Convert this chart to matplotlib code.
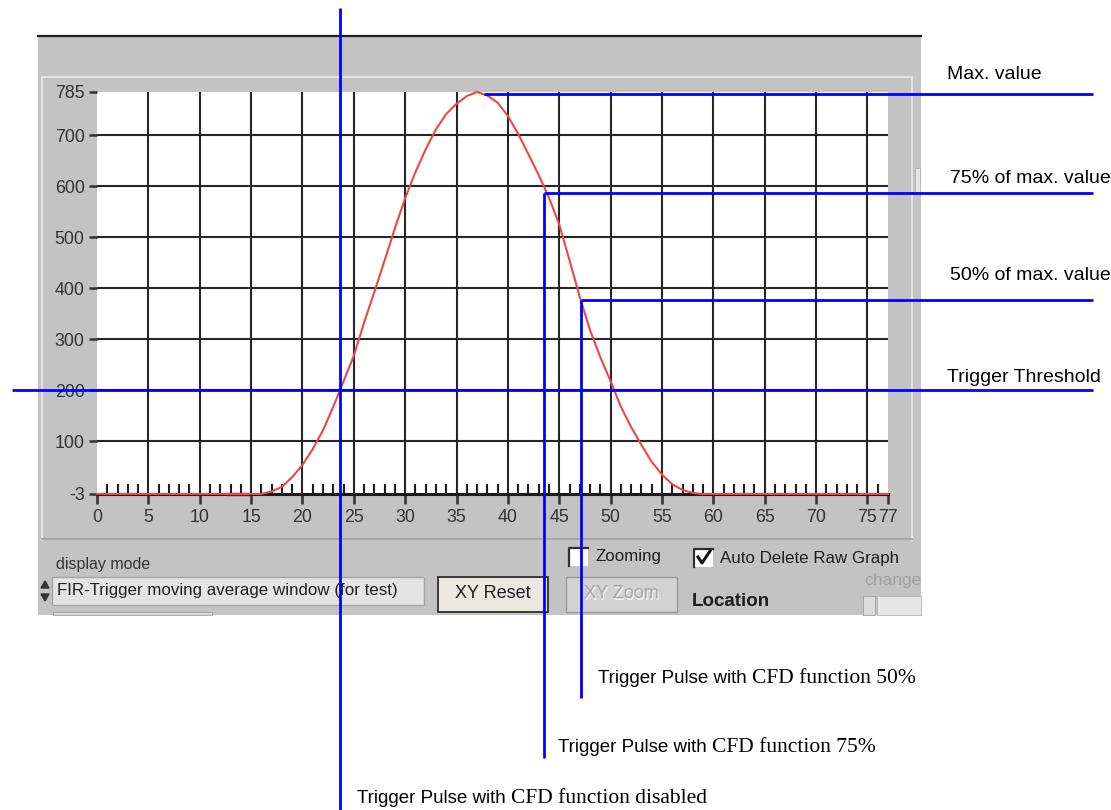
import matplotlib
matplotlib.use("Agg")
import matplotlib.pyplot as plt
from matplotlib.patches import Rectangle, Polygon
from matplotlib.lines import Line2D
from matplotlib.ticker import FixedLocator, MultipleLocator
from matplotlib.transforms import Bbox, TransformedBbox

plt.rcParams["axes.unicode_minus"] = False

# FIR trigger pulse (moving average window)
sample_x = [0, 1, 2, 3, 4, 5, 6, 7, 8, 9, 10, 11, 12, 13, 14, 15, 16, 17, 18, 19,
            20, 21, 22, 23, 24, 25, 26, 27, 28, 29, 30, 31, 32, 33, 34, 35, 36, 37, 38, 39,
            40, 41, 42, 43, 44, 45, 46, 47, 48, 49, 50, 51, 52, 53, 54, 55, 56, 57, 58, 59,
            60, 61, 62, 63, 64, 65, 66, 67, 68, 69, 70, 71, 72, 73, 74, 75, 76, 77]
pulse_y = [-3, -3, -3, -3, -3, -3, -3, -3, -3, -3, -3, -3, -3, -3, -3, -3, -3, 2, 11, 30,
           54, 85, 122, 168, 218, 268, 333, 393, 455, 518, 577, 628, 673, 712, 742, 762, 777, 785, 778, 764,
           738, 703, 663, 622, 578, 525, 455, 383, 318, 265, 218, 168, 128, 93, 60, 35, 16, 5, -1, -3,
           -3, -3, -3, -3, -3, -3, -3, -3, -3, -3, -3, -3, -3, -3, -3, -3, -3, -3]
raw_x = [12.8, 14.6]
raw_y = [-3, -3]

xticks = [0, 5, 10, 15, 20, 25, 30, 35, 40, 45, 50, 55, 60, 65, 70, 75, 77]
yticks = [-3, 100, 200, 300, 400, 500, 600, 700, 785]
grid_x = [5, 10, 15, 20, 25, 30, 35, 40, 45, 50, 55, 60, 65, 70, 75]
grid_y = [100, 200, 300, 400, 500, 600, 700]

# annotation levels / trigger positions
max_x, max_level = 37.7, 782
threshold = 200
cfd_x = [23.65, 43.5, 47.1]        # disabled, 75 %, 50 %
cfd_level = [threshold, 587, 377]
level_names = ["Max. value", "75% of max. value", "50% of max. value", "Trigger Threshold"]
pulse_names = ["disabled", "75%", "50%"]

W, H = 1111, 810
fig = plt.figure(figsize=(W / 100, H / 100), dpi=100)
fig.patch.set_facecolor("white")
gui_font = "Liberation Sans"


def fbox(x0, y0, x1, y1):
    return (x0 / W, 1 - y1 / H), (x1 - x0) / W, (y1 - y0) / H


def frect(x0, y0, x1, y1, **kw):
    xy, w, h = fbox(x0, y0, x1, y1)
    kw.setdefault("zorder", -1)
    fig.add_artist(Rectangle(xy, w, h, transform=fig.transFigure, **kw))


def fline(xs, ys, **kw):
    kw.setdefault("zorder", -0.8)
    fig.add_artist(Line2D([x / W for x in xs], [1 - y / H for y in ys],
                          transform=fig.transFigure, **kw))


def ftext(x, y, s, **kw):
    kw.setdefault("zorder", -0.5)
    kw.setdefault("va", "center")
    return fig.text(x / W, 1 - y / H, s, **kw)


# LabVIEW style panel
frect(38, 36, 921, 615, facecolor="#c3c3c3", edgecolor="none", zorder=-2)
fline([38, 921], [36, 36], color="#1e1e1e", lw=1.6)
fline([42, 912, 912], [77, 77, 540], color="#e4e4e4", lw=1.4)
fline([42, 42], [77, 540], color="#e4e4e4", lw=1.4)
fline([42, 912], [539, 539], color="#a8a8a8", lw=1.4)
frect(915, 168, 920, 192, facecolor="#e6e6e6", edgecolor="#b0b0b0", lw=0.6)

# controls below the graph
ftext(56, 565, "display mode", fontsize=11.5, color="#333333", family=gui_font)
frect(52, 577, 424, 605, facecolor="#e4e4e4", edgecolor="#a4a4a4", lw=1.0)
ftext(57, 591, "FIR-Trigger moving average window (for test)", fontsize=12.2,
      color="#202020", family=gui_font)
fig.add_artist(Polygon([(41 / W, 1 - 588 / H), (49 / W, 1 - 588 / H), (45 / W, 1 - 581 / H)],
                       transform=fig.transFigure, color="#333333", zorder=-0.8))
fig.add_artist(Polygon([(41 / W, 1 - 594 / H), (49 / W, 1 - 594 / H), (45 / W, 1 - 601 / H)],
                       transform=fig.transFigure, color="#333333", zorder=-0.8))
frect(53, 612, 212, 615, facecolor="#d8d8d8", edgecolor="#a0a0a0", lw=0.6)

frect(438, 577, 548, 612, facecolor="#ebe8e2", edgecolor="#3a3a3a", lw=1.4)
ftext(493, 594, "XY Reset", fontsize=13, color="#1e1e1e", ha="center", family=gui_font)
frect(566, 577, 677, 612, facecolor="#d2d2d2", edgecolor="#9a9a9a", lw=1.0)
ftext(622, 595, "XY Zoom", fontsize=13, color="#f4f4f4", ha="center", family=gui_font)
ftext(621, 594, "XY Zoom", fontsize=13, color="#a6a6a6", ha="center", family=gui_font)
ftext(692, 602, "Location", fontsize=13.5, color="#1e1e1e", weight="bold", family=gui_font)

frect(569, 548, 588, 566, facecolor="white", edgecolor="none")
fline([569, 569, 588], [566, 548, 548], color="#303030", lw=1.6)
ftext(595, 557, "Zooming", fontsize=12.2, color="#1e1e1e", family=gui_font)
frect(694, 549, 713, 567, facecolor="white", edgecolor="none")
fline([694, 694, 713], [567, 549, 549], color="#303030", lw=1.6)
fline([698, 702, 710], [557, 563, 551], color="#111111", lw=2.2)
ftext(720, 558, "Auto Delete Raw Graph", fontsize=12.2, color="#1e1e1e", family=gui_font)
t = ftext(864, 581, "change", fontsize=12.5, color="#a2a2a2", family=gui_font)
t.set_clip_box(TransformedBbox(Bbox([[0, 0], [921 / W, 1]]), fig.transFigure))
t.set_clip_on(True)
frect(863, 596, 875, 615, facecolor="#dcdcdc", edgecolor="#a0a0a0", lw=0.6)
frect(877, 596, 921, 615, facecolor="#e6e6e6", edgecolor="#b4b4b4", lw=0.6)

# graph
xy, w, h = fbox(97, 92, 888, 494)
ax = fig.add_axes([xy[0], xy[1], w, h])
ax.set_facecolor("white")
ax.set_xlim(0, 77)
ax.set_ylim(-3, 785)
for gx in grid_x:
    ax.axvline(gx, color="#262626", lw=1.5, zorder=1)
for gy in grid_y:
    ax.axhline(gy, color="#262626", lw=1.5, zorder=1)
for s in ["top", "left", "right"]:
    ax.spines[s].set_visible(False)
ax.spines["bottom"].set_color("#1a1a1a")
ax.spines["bottom"].set_linewidth(2.2)

ax.xaxis.set_major_locator(FixedLocator(xticks))
ax.xaxis.set_minor_locator(MultipleLocator(1))
ax.yaxis.set_major_locator(FixedLocator(yticks))
ax.tick_params(axis="x", which="major", direction="out", length=7, width=1.8,
               color="#303030", pad=4, labelsize=12.8, labelcolor="#333333")
ax.tick_params(axis="x", which="minor", direction="in", length=7, width=1.5, color="#1e1e1e")
ax.tick_params(axis="y", which="major", direction="out", length=6, width=1.8,
               color="#303030", pad=3, labelsize=12.8, labelcolor="#333333")
for lab in ax.get_xticklabels() + ax.get_yticklabels():
    lab.set_family(gui_font)

ax.plot(raw_x, raw_y, color="#5a2020", lw=2.4, zorder=3, clip_on=False)
ax.plot(sample_x, pulse_y, color="#ee4646", lw=1.5, zorder=4, clip_on=False)

# annotation lines, ends given in screen pixels
inv = ax.transData.inverted()


def px_data(px, py):
    return inv.transform((px, H - py))


right_x = px_data(1093, 0)[0]
left_x = px_data(12, 0)[0]
top_y = px_data(0, 8)[1]
bot_y = px_data(0, 812)[1]
end_75 = px_data(0, 758)[1]
end_50 = px_data(0, 698)[1]
blue = dict(color="#0000ff", lw=2, clip_on=False, zorder=6, solid_capstyle="butt")

ax.plot([max_x, right_x], [max_level, max_level], **blue)
ax.plot([cfd_x[1], right_x], [cfd_level[1], cfd_level[1]], **blue)
ax.plot([cfd_x[2], right_x], [cfd_level[2], cfd_level[2]], **blue)
ax.plot([left_x, right_x], [threshold, threshold], **blue)
ax.plot([cfd_x[0], cfd_x[0]], [top_y, bot_y], **blue)
ax.plot([cfd_x[1], cfd_x[1]], [cfd_level[1], end_75], **blue)
ax.plot([cfd_x[2], cfd_x[2]], [cfd_level[2], end_50], **blue)

# labels on the right
for (px, py), name in zip([(947, 79), (950, 183), (950, 280), (947, 382)], level_names):
    ftext(px, py, name, fontsize=14, color="black", va="baseline",
          family="Liberation Sans", zorder=3)

# pulse labels below (sans + serif mixed as in the original)
renderer = fig.canvas.get_renderer()
for (px, py), name in zip([(357, 803), (558, 752), (598, 683)], pulse_names):
    t1 = ftext(px, py, "Trigger Pulse with", fontsize=13.5, color="black",
               va="baseline", family="Liberation Sans", zorder=3)
    bb = t1.get_window_extent(renderer=renderer)
    fig.text((bb.x1 + 5) / W, 1 - py / H, "CFD function " + name, fontsize=15.5,
             color="black", va="baseline", family="Liberation Serif", zorder=3)

fig.savefig("out.png", dpi=100)
